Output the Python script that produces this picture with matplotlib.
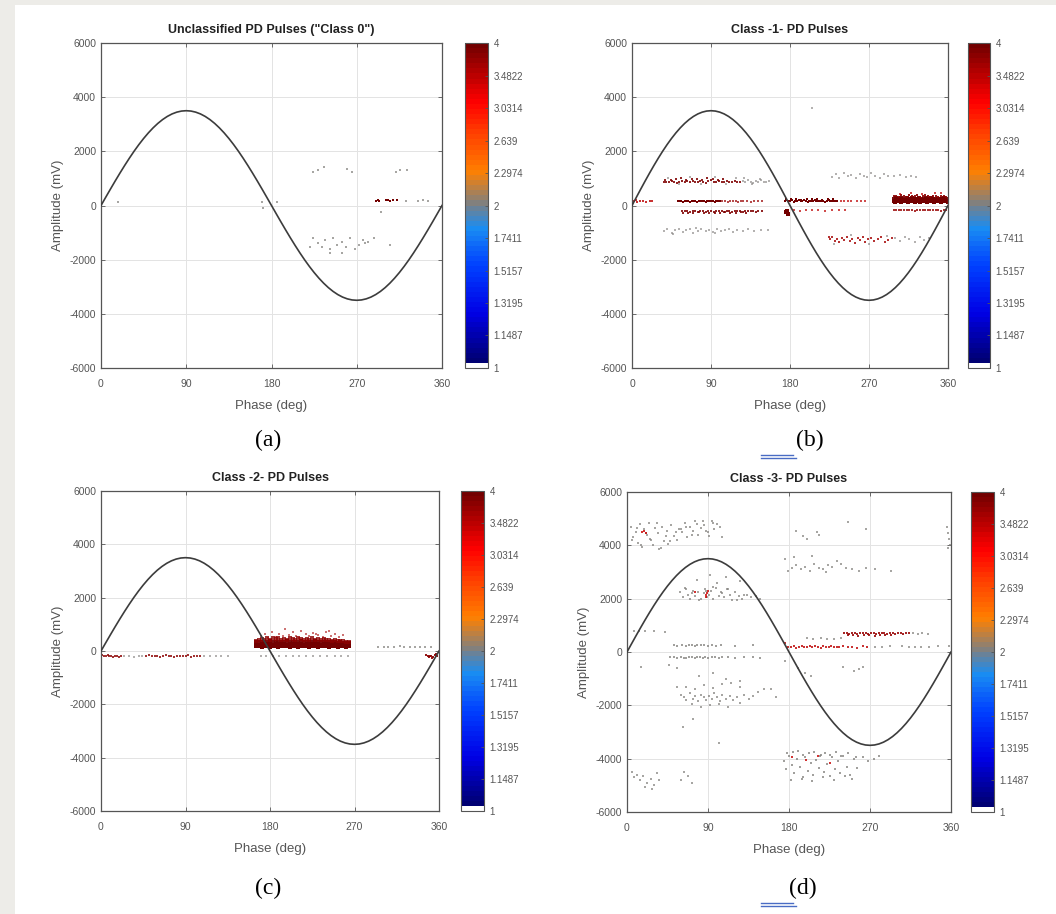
import numpy as np
import matplotlib.pyplot as plt
from matplotlib.colors import LinearSegmentedColormap, ListedColormap, LogNorm
from matplotlib.cm import ScalarMappable
from matplotlib.patches import Rectangle
from matplotlib.lines import Line2D
from matplotlib.ticker import NullLocator

W, H = 1056, 914

# reference wave, 0..180 deg in 5 deg steps (second half is the mirror)
wave_half = [0, 305, 608, 906, 1197, 1479, 1750, 2008, 2250, 2475, 2681, 2867, 3031,
             3172, 3289, 3381, 3447, 3487, 3500, 3487, 3447, 3381, 3289, 3172, 3031,
             2867, 2681, 2475, 2250, 2008, 1750, 1479, 1197, 906, 608, 305, 0]
wave_phase = list(range(0, 365, 5))
wave_amp = wave_half + [-v for v in wave_half[1:]]

cbar_ticks = [1, 1.1487, 1.3195, 1.5157, 1.7411, 2, 2.2974, 2.639, 3.0314, 3.4822, 4]
cbar_labels = ["1", "1.1487", "1.3195", "1.5157", "1.7411", "2", "2.2974", "2.639",
               "3.0314", "3.4822", "4"]

titles = ['Unclassified PD Pulses ("Class 0")', "Class -1- PD Pulses",
          "Class -2- PD Pulses", "Class -3- PD Pulses"]
captions = ["(a)", "(b)", "(c)", "(d)"]

# ---- class 0 ----
a_sp_ph = [18, 170, 171, 186, 221, 224, 229, 233, 237, 242, 245, 249, 254, 259, 263, 268,
           272, 277, 279, 282, 288, 305, 254, 242, 224, 229, 235, 260, 265, 311, 316, 323,
           322, 335, 340, 345, 296]
a_sp_amp = [140, 140, -80, 140, -1520, -1210, -1380, -1520, -1290, -1600, -1210, -1450,
            -1330, -1520, -1210, -1600, -1450, -1290, -1380, -1330, -1210, -1450, -1760,
            -1760, 1250, 1300, 1420, 1350, 1250, 1250, 1310, 1300, 150, 180, 200, 160, -230]
a_dn_ph = [290, 292, 294, 301, 303, 305, 308, 313]
a_dn_amp = [180, 200, 170, 210, 190, 175, 200, 185]

# ---- class 1 ----
b_up_ph = [36, 39, 42, 45, 48, 51, 54, 57, 60, 63, 66, 69, 72, 75, 78, 81, 84, 87, 90, 93,
           96, 99, 102, 105, 108, 111, 114, 117, 120, 123, 38, 44, 50, 56, 62, 68, 74, 80,
           86, 92, 98, 104]
b_up_amp = [860, 880, 850, 900, 870, 840, 880, 910, 860, 890, 850, 920, 880, 860, 900, 870,
            840, 890, 930, 880, 860, 900, 870, 850, 890, 880, 860, 900, 870, 880, 960, 940,
            980, 1000, 950, 970, 990, 960, 1010, 970, 950, 980]
b_up_sp_ph = [41, 53, 66, 79, 95, 107, 118, 126, 129, 132, 135, 138, 141, 144, 147, 150,
              153, 156, 128, 137, 146]
b_up_sp_amp = [1020, 790, 1050, 800, 1060, 790, 1030, 900, 860, 940, 880, 830, 910, 870,
               950, 880, 860, 900, 1000, 800, 980]
b_z1_ph = [2, 4, 6, 9, 12, 16, 20, 23]
b_z1_amp = [150, 210, 130, 180, 160, 140, 170, 150]
b_z2_ph = [52, 54, 56, 58, 60, 62, 64, 66, 68, 70, 72, 74, 76, 78, 80, 82, 84, 86, 88, 90,
           92, 94, 96, 98, 100]
b_z2_amp = [180, 150, 170, 140, 160, 180, 150, 130, 160, 170, 150, 140, 170, 160, 150, 180,
            140, 160, 150, 170, 160, 140, 150, 170, 160]
b_z2_md_ph = [103, 106, 109, 112, 115, 118, 121, 124, 127, 131, 135, 139, 143, 148]
b_z2_md_amp = [150, 170, 140, 160, 150, 170, 140, 160, 150, 160, 140, 170, 150, 160]
b_n1_ph = [57, 60, 63, 66, 69, 72, 75, 78, 81, 84, 87, 90, 93, 96, 99, 102, 105, 108, 111,
           114, 117, 120, 123, 126, 129, 132, 135, 138, 141, 144, 148, 58, 64, 70, 76, 82,
           88, 94, 100, 106, 112, 118, 124, 130]
b_n1_amp = [-190, -220, -200, -240, -210, -190, -230, -200, -220, -250, -190, -210, -240,
            -200, -220, -190, -230, -210, -200, -240, -190, -220, -210, -230, -200, -190,
            -220, -210, -240, -200, -190, -270, -260, -280, -250, -270, -290, -260, -270,
            -250, -260, -280, -250, -260]
b_n2_ph = [36, 40, 45, 49, 53, 58, 62, 66, 70, 75, 79, 84, 88, 92, 97, 101, 106, 110, 115,
           120, 126, 132, 139, 147, 155, 47, 73, 95]
b_n2_amp = [-950, -880, -1000, -900, -860, -960, -920, -880, -1000, -930, -870, -950, -900,
            -980, -880, -940, -910, -870, -960, -900, -930, -880, -950, -900, -920, -1050,
            -820, -1020]
b_z3_ph = [174, 176, 178, 180, 182, 184, 186, 188, 190, 192, 194, 196, 198, 200, 202, 204,
           206, 208, 210, 212, 214, 216, 218, 220, 222, 224, 226, 228, 230, 232, 234, 175,
           181, 187, 193, 199, 205, 211, 217, 223, 229]
b_z3_amp = [160, 190, 150, 170, 200, 140, 180, 160, 190, 150, 170, 200, 160, 140, 180, 170,
            150, 190, 160, 170, 150, 180, 160, 140, 170, 190, 150, 160, 170, 150, 160, 240,
            230, 250, 220, 240, 230, 250, 220, 240, 230]
b_z3_sp_ph = [238, 242, 246, 250, 256, 261, 266]
b_z3_sp_amp = [170, 150, 160, 180, 150, 160, 170]
b_blob_ph = [176, 178, 177]
b_blob_amp = [-250, -300, -210]
b_n3_ph = [185, 191, 198, 205, 212, 220, 228, 236, 243]
b_n3_amp = [-170, -190, -160, -180, -170, -190, -160, -180, -170]
b_r1_ph = [298, 300, 302, 304, 306, 308, 310, 312, 314, 316, 318, 320, 322, 324, 326, 328,
           330, 332, 334, 336, 338, 340, 342, 344, 346, 348, 350, 352, 354, 356, 358, 360]
b_r1_amp = [160, 140, 170, 150, 130, 160, 180, 150, 140, 170, 160, 150, 130, 170, 160, 140,
            150, 180, 160, 140, 170, 150, 160, 130, 150, 170, 160, 140, 150, 160, 150, 140]
b_r2_ph = [299, 301, 303, 305, 307, 309, 311, 313, 315, 317, 319, 321, 323, 325, 327, 329,
           331, 333, 335, 337, 339, 341, 343, 345, 347, 349, 351, 353, 355, 357, 359]
b_r2_amp = [240, 260, 230, 250, 270, 240, 220, 260, 250, 230, 270, 240, 250, 230, 260, 240,
            220, 250, 270, 240, 230, 260, 250, 240, 220, 250, 230, 240, 260, 230, 250]
b_r3_ph = [298, 301, 304, 307, 310, 313, 316, 319, 322, 325, 328, 331, 334, 337, 340, 343,
           346, 349, 352, 355, 358]
b_r3_amp = [340, 360, 330, 380, 350, 320, 370, 340, 360, 390, 330, 350, 370, 340, 320, 360,
            350, 330, 340, 360, 320]
b_r4_ph = [305, 318, 330, 345, 352]
b_r4_amp = [440, 470, 430, 450, 460]
b_n4_ph = [298, 301, 304, 307, 310, 313, 316, 319, 322, 325, 328, 331, 334, 337, 340, 343,
           346, 349, 352, 355, 358]
b_n4_amp = [-170, -160, -180, -170, -150, -180, -160, -170, -190, -160, -170, -150, -180,
            -170, -160, -180, -170, -160, -190, -170, -160]
b_ur_ph = [228, 232, 236, 241, 246, 250, 255, 260, 264, 268, 272, 277, 282, 287, 292, 298,
           305, 312, 318, 324, 205]
b_ur_amp = [1050, 1150, 1000, 1200, 1080, 1120, 1010, 1180, 1100, 1060, 1200, 1090, 1030,
            1150, 1100, 1080, 1120, 1050, 1100, 1070, 3600]
b_lr_ph = [224, 226, 228, 231, 234, 236, 239, 242, 245, 248, 251, 254, 257, 260, 263, 266,
           269, 272, 276, 280, 284, 288, 292, 296]
b_lr_amp = [-1150, -1250, -1180, -1300, -1220, -1350, -1200, -1280, -1170, -1320, -1240,
            -1380, -1210, -1290, -1160, -1340, -1250, -1200, -1300, -1230, -1180, -1330,
            -1260, -1200]
b_lr_sp_ph = [300, 305, 311, 316, 322, 328, 333, 338, 230, 250, 270, 290]
b_lr_sp_amp = [-1200, -1300, -1150, -1250, -1350, -1180, -1280, -1200, -1420, -1100, -1430,
               -1110]

# ---- class 2 ----
c_blk_ph = [165, 168, 171, 174, 177, 180, 183, 186, 189, 192, 195, 198, 201, 204, 207, 210,
            213, 216, 219, 222, 225, 228, 231, 234, 237, 240, 243, 246, 249, 252, 255, 258,
            261, 264]
c_blk_amp1 = [170, 180, 160, 175, 185, 165, 170, 180, 160, 175, 170, 185, 165, 180, 170, 160,
              175, 180, 170, 165, 185, 170, 160, 175, 180, 170, 165, 180, 175, 160, 170, 180,
              165, 175]
c_blk_amp2 = [250, 240, 260, 245, 255, 265, 240, 250, 260, 245, 255, 240, 265, 250, 245, 260,
              250, 240, 255, 265, 245, 250, 260, 240, 255, 250, 245, 260, 250, 240, 255, 245,
              260, 250]
c_blk_amp3 = [330, 320, 340, 350, 330, 360, 340, 320, 350, 330, 340, 360, 330, 350, 340, 320,
              360, 330, 350, 340, 330, 360, 340, 320, 350, 330, 340, 320, 330, 310, 320, 300,
              310, 300]
c_blk_amp4 = [390, 420, 450, 430, 470, 410, 480, 440, 500, 420, 460, 430, 490, 450, 410, 470,
              440, 400, 460, 430, 480, 420, 450, 400, 440, 410, 430, 390, 400, 380, 360, 370,
              350, 340]
c_top_ph = [170, 175, 182, 186, 190, 196, 200, 204, 208, 213, 218, 222, 226, 231, 236, 240,
            245, 249, 254, 258, 178, 194, 211, 229, 243]
c_top_amp = [560, 620, 700, 540, 650, 820, 600, 710, 580, 760, 640, 550, 690, 600, 520, 730,
             560, 650, 540, 600, 500, 580, 500, 640, 760]
c_rz_ph = [295, 301, 306, 312, 318, 323, 329, 334, 340, 345, 351]
c_rz_amp = [150, 140, 160, 150, 170, 150, 140, 160, 150, 140, 150]
c_nl_ph = [1, 3, 5, 7, 9, 11, 13, 15, 17, 19, 21, 48, 51, 54, 57, 60, 63, 66, 69, 72, 75, 78,
           81, 84, 87, 90, 93, 96, 99, 102, 105]
c_nl_amp = [-150, -170, -190, -160, -200, -180, -210, -170, -190, -230, -200, -180, -160,
            -200, -190, -170, -210, -180, -160, -200, -190, -220, -170, -180, -200, -190,
            -160, -210, -180, -170, -190]
c_ns_ph = [25, 30, 35, 40, 44, 110, 116, 122, 128, 135, 170, 176, 183, 190, 197, 204, 211,
           218, 226, 233, 241, 249, 256, 263]
c_ns_amp = [-200, -180, -210, -190, -170, -190, -200, -180, -190, -200, -180, -200, -170,
            -190, -200, -180, -170, -190, -200, -180, -190, -170, -190, -180]
c_nr_ph = [346, 348, 350, 352, 354, 356, 358, 349, 353, 357]
c_nr_amp = [-150, -170, -200, -180, -220, -160, -200, -240, -260, -120]

# ---- class 3 ----
d_tl_ph = [4, 7, 10, 12, 14, 17, 19, 22, 24, 27, 29, 31, 34, 36, 39, 41, 44, 46, 49, 52, 55,
           58, 61, 64, 67, 70, 73, 76, 79, 82, 85, 88, 91, 94, 97, 100, 103, 106, 6, 11, 16,
           21, 26, 33, 38, 43, 48, 54, 60, 66, 72, 78, 84, 90, 96, 356, 357, 358, 359, 357,
           188, 195, 211, 245, 265, 200, 213]
d_tl_amp = [4700, 4300, 4500, 4100, 4800, 3950, 4600, 4400, 4850, 4200, 4000, 4650, 4450,
            3850, 4700, 4150, 4550, 4050, 4750, 4350, 4200, 4600, 4500, 4850, 4300, 4700,
            4550, 4900, 4400, 4650, 4750, 4550, 4350, 4900, 4600, 4800, 4700, 4300, 4200,
            4650, 4000, 4450, 4250, 4850, 3900, 4350, 4150, 4500, 4600, 4700, 4400, 4800,
            4900, 4500, 4850, 4700, 4450, 4250, 4000, 3900, 4550, 4350, 4500, 4880, 4620,
            4250, 4400]
d_red_ph = [17, 19, 21, 88, 89, 90, 88, 75, 183, 199, 212, 225]
d_red_amp = [4500, 4550, 4480, 2050, 2200, 2300, 2150, 2250, -3950, -4050, -3900, -4150]
d_mu_ph = [176, 179, 183, 188, 193, 198, 203, 208, 213, 218, 223, 228, 233, 238, 243, 250,
           258, 265, 275, 293, 186, 205, 221]
d_mu_amp = [3500, 3050, 3150, 3250, 3100, 3200, 3050, 3300, 3150, 3100, 3250, 3200, 3400,
            3300, 3150, 3100, 3050, 3150, 3100, 3050, 3550, 3600, 3000]
d_pk_ph = [59, 62, 65, 68, 70, 73, 76, 79, 82, 85, 87, 89, 91, 93, 96, 99, 102, 105, 108,
           111, 114, 117, 120, 124, 128, 133, 138, 143, 148, 64, 72, 80, 88, 95, 104, 112,
           122, 130, 78, 92, 100, 110, 126]
d_pk_amp = [2250, 2050, 2350, 2150, 2000, 2300, 2100, 2250, 2000, 2200, 2350, 2050, 2150,
            2300, 2000, 2400, 2100, 2200, 2050, 2350, 2150, 1950, 2250, 2100, 2000, 2150,
            2050, 2100, 2000, 2400, 2200, 1950, 2300, 2450, 2250, 2350, 1950, 2150, 2700,
            2900, 2600, 2800, 2650]
d_700_ph = [241, 244, 247, 250, 253, 256, 259, 262, 265, 268, 271, 274, 277, 280, 283, 286,
            289, 292, 295, 298, 301, 304, 307, 310, 313, 245, 251, 257, 263, 269, 275, 281,
            287, 293]
d_700_amp = [700, 720, 690, 710, 700, 680, 730, 700, 720, 690, 710, 700, 680, 720, 700, 710,
             690, 700, 720, 680, 700, 710, 690, 700, 720, 640, 620, 600, 650, 630, 610, 640,
             620, 650]
d_z_ph = [176, 179, 182, 185, 188, 191, 194, 197, 200, 203, 206, 209, 212, 215, 218, 221,
          224, 227, 230, 233, 236, 240, 245, 250, 256, 262, 267]
d_z_amp = [350, 200, 180, 220, 160, 200, 230, 170, 200, 210, 180, 230, 190, 160, 220, 200,
           170, 230, 190, 200, 170, 220, 180, 200, 160, 210, 190]
d_sp_ph = [318, 323, 328, 334, 275, 283, 292, 305, 313, 320, 327, 335, 345, 358, 200, 207,
           215, 222, 230, 238, 8, 13, 20, 30, 42, 15, 47, 55, 62, 73, 102, 55, 160, 165,
           190, 198, 204, 240, 252, 258, 262, 175]
d_sp_amp = [700, 680, 710, 690, 200, 180, 210, 220, 190, 200, 180, 200, 210, 230, 520, 480,
            510, 500, 470, 520, 780, 800, 770, 790, 760, -550, -500, -600, -2800, -2500,
            -3400, -1300, -1400, -1700, -600, -800, -900, -550, -700, -650, -580, -350]
d_l2_ph = [52, 56, 61, 65, 69, 72, 75, 78, 82, 86, 90, 94, 99, 104, 120, 140, 48, 52, 56,
           60, 63, 66, 69, 72, 75, 78, 81, 84, 87, 90, 94, 98, 102, 106, 112, 120, 130, 140,
           148]
d_l2_amp = [250, 220, 260, 240, 250, 280, 230, 260, 250, 270, 240, 260, 230, 250, 240, 250,
            -200, -180, -220, -190, -210, -230, -190, -200, -220, -180, -200, -210, -190,
            -230, -200, -180, -210, -200, -190, -220, -200, -180, -210]
d_ll_ph = [60, 63, 66, 70, 73, 76, 79, 82, 85, 88, 91, 94, 97, 100, 103, 106, 110, 114, 118,
           122, 126, 130, 135, 140, 146, 152, 65, 75, 85, 95, 105, 115, 125, 72, 82, 92, 102,
           112, 80, 95, 110, 125]
d_ll_amp = [-1600, -1700, -1800, -1550, -1750, -1650, -1850, -1600, -1700, -1800, -1650,
            -1750, -1550, -1700, -1850, -1600, -1750, -1650, -1800, -1700, -1900, -1600,
            -1750, -1650, -1500, -1400, -1300, -1400, -1250, -1350, -1200, -1150, -1300,
            -1950, -2050, -2000, -1950, -2050, -900, -800, -1000, -1100]
d_bl_ph = [5, 8, 11, 14, 18, 22, 27, 30, 33, 36, 60, 63, 68, 72, 20, 28]
d_bl_amp = [-4500, -4700, -4600, -4800, -4650, -4900, -4750, -5000, -4550, -4800, -4800,
            -4500, -4650, -4900, -5050, -5150]
d_bm_ph = [174, 177, 180, 183, 186, 189, 192, 195, 198, 201, 204, 207, 210, 213, 216, 219,
           222, 225, 228, 231, 234, 237, 240, 244, 248, 252, 256, 262, 268, 274, 280, 178,
           184, 190, 196, 202, 208, 214, 220, 226, 232, 238, 246, 254, 182, 194, 206, 218,
           230, 242, 250]
d_bm_amp = [-4100, -4400, -3900, -4250, -4550, -4000, -4300, -4700, -3950, -4450, -4150,
            -4600, -4050, -4350, -3850, -4500, -4200, -4650, -3950, -4400, -4100, -4550,
            -3900, -4300, -4600, -4000, -4350, -3950, -4100, -4000, -3900, -3800, -3750,
            -3700, -3850, -3800, -3750, -3900, -3800, -3850, -3750, -3900, -3800, -3950,
            -4800, -4750, -4850, -4700, -4800, -4650, -4750]

# pulse groups per panel: (phase, amplitude, colour level, marker size, alpha)
groups = [
    [(a_sp_ph, a_sp_amp, 2.0, 3, 0.7), (a_dn_ph, a_dn_amp, 4.0, 4, 1.0)],
    [(b_up_ph, b_up_amp, 3.9, 3.5, 0.85), (b_up_sp_ph, b_up_sp_amp, 2.0, 3, 0.6),
     (b_z1_ph, b_z1_amp, 3.5, 3, 0.8), (b_z2_ph, b_z2_amp, 4.0, 4, 1.0),
     (b_z2_md_ph, b_z2_md_amp, 3.7, 2.5, 0.7), (b_n1_ph, b_n1_amp, 3.9, 3.5, 0.85),
     (b_n2_ph, b_n2_amp, 2.0, 3, 0.6), (b_z3_ph, b_z3_amp, 4.0, 4, 1.0),
     (b_z3_sp_ph, b_z3_sp_amp, 3.5, 2.5, 0.7), (b_blob_ph, b_blob_amp, 4.0, 5, 1.0),
     (b_n3_ph, b_n3_amp, 3.5, 2.5, 0.7), (b_r1_ph, b_r1_amp, 4.0, 5, 1.0),
     (b_r2_ph, b_r2_amp, 4.0, 5, 0.95), (b_r3_ph, b_r3_amp, 3.8, 4, 0.9),
     (b_r4_ph, b_r4_amp, 3.5, 2.5, 0.7), (b_n4_ph, b_n4_amp, 3.7, 3, 0.8),
     (b_ur_ph, b_ur_amp, 2.0, 3, 0.6), (b_lr_ph, b_lr_amp, 3.6, 3.5, 0.8),
     (b_lr_sp_ph, b_lr_sp_amp, 2.0, 3, 0.6)],
    [(c_blk_ph, c_blk_amp1, 4.0, 7, 1.0), (c_blk_ph, c_blk_amp2, 4.0, 7, 1.0),
     (c_blk_ph, c_blk_amp3, 4.0, 7, 0.95), (c_blk_ph, c_blk_amp4, 3.8, 5, 0.8),
     (c_top_ph, c_top_amp, 3.6, 3, 0.55), (c_rz_ph, c_rz_amp, 2.0, 3, 0.7),
     (c_nl_ph, c_nl_amp, 3.8, 3, 0.8), (c_ns_ph, c_ns_amp, 2.0, 3, 0.6),
     (c_nr_ph, c_nr_amp, 3.8, 4, 0.9)],
    [(d_tl_ph, d_tl_amp, 2.0, 3, 0.7), (d_mu_ph, d_mu_amp, 2.0, 3, 0.7),
     (d_pk_ph, d_pk_amp, 2.0, 3, 0.7), (d_700_ph, d_700_amp, 3.7, 4, 0.85),
     (d_z_ph, d_z_amp, 3.5, 3.5, 0.8), (d_sp_ph, d_sp_amp, 2.0, 3, 0.7),
     (d_l2_ph, d_l2_amp, 2.0, 3, 0.75), (d_ll_ph, d_ll_amp, 2.0, 3, 0.7),
     (d_bl_ph, d_bl_amp, 2.0, 3, 0.7), (d_bm_ph, d_bm_amp, 2.0, 3, 0.75),
     (d_red_ph, d_red_amp, 3.4, 4, 0.8)],
]

# panel boxes in pixels: axes (left, top, right, bottom), colorbar (left, right)
ax_boxes = [(101, 43, 442, 368), (632, 43, 948, 368), (101, 491, 439, 811), (627, 492, 951, 812)]
cb_boxes = [(465, 488), (968, 990), (461, 484), (971, 994)]
cap_pos = [(268, 440), (810, 440), (268, 888), (803, 888)]

# MATLAB-style map: white bottom entry, then navy -> blue -> grey -> orange -> red -> dark red
base = LinearSegmentedColormap.from_list("pd", [
    (0.00, (0.00, 0.00, 0.45)), (0.15, (0.00, 0.00, 0.90)), (0.30, (0.00, 0.25, 1.00)),
    (0.42, (0.10, 0.55, 0.95)), (0.50, (0.50, 0.50, 0.50)), (0.60, (1.00, 0.50, 0.00)),
    (0.72, (1.00, 0.25, 0.00)), (0.82, (1.00, 0.00, 0.00)), (1.00, (0.45, 0.00, 0.00))])
cmap = ListedColormap(np.vstack([[1, 1, 1, 1], base(np.linspace(0, 1, 63))]))
norm = LogNorm(vmin=1, vmax=4)

plt.rcParams['font.family'] = 'Liberation Sans'
plt.rcParams['axes.unicode_minus'] = False
fig = plt.figure(figsize=(W / 100, H / 100), dpi=100)
fig.patch.set_facecolor('#edece8')
fig.patches.append(Rectangle((15 / W, 0), 1 - 15 / W, 1 - 5 / H, transform=fig.transFigure,
                             facecolor='white', edgecolor='none', zorder=-5))


def fig_rect(l, t, r, b):
    return [l / W, 1 - b / H, (r - l) / W, (b - t) / H]


for i in range(4):
    l, t, r, b = ax_boxes[i]
    ax = fig.add_axes(fig_rect(l, t, r, b))
    ax.plot(wave_phase, wave_amp, color='#3c3c3c', lw=1.2, zorder=3)
    for ph, amp, lev, s, al in groups[i]:
        ax.scatter(ph, amp, s=s, color=cmap(norm(lev)), alpha=al, linewidths=0,
                   marker='s', zorder=2)
    ax.set_xlim(0, 360)
    ax.set_ylim(-6000, 6000)
    ax.set_xticks([0, 90, 180, 270, 360])
    ax.set_yticks(range(-6000, 6001, 2000))
    ax.grid(True, color='#e3e3e3', lw=0.7)
    ax.set_axisbelow(True)
    ax.tick_params(direction='in', length=3, top=True, right=True, labelsize=7.5,
                   colors='#555555', width=0.6)
    ax.tick_params(axis='x', pad=8)
    for sp in ax.spines.values():
        sp.set_color('#555555')
        sp.set_linewidth(0.9)
    ax.set_xlabel("Phase (deg)", fontsize=9.5, color='#555555', labelpad=8)
    ax.set_ylabel("Amplitude (mV)", fontsize=9.5, color='#555555', labelpad=4)
    ax.set_title(titles[i], fontsize=9, fontweight='bold', color='#222222', pad=7)

    cl, cr = cb_boxes[i]
    cax = fig.add_axes(fig_rect(cl, t, cr, b))
    cb = fig.colorbar(ScalarMappable(norm=norm, cmap=cmap), cax=cax)
    cb.set_ticks(cbar_ticks)
    cb.set_ticklabels(cbar_labels)
    cax.yaxis.set_minor_locator(NullLocator())
    cax.tick_params(direction='in', length=2.5, labelsize=7, colors='#555555', width=0.6,
                    pad=4)
    cb.outline.set_edgecolor('#555555')
    cb.outline.set_linewidth(0.8)

    cx, cy = cap_pos[i]
    fig.text(cx / W, 1 - cy / H, captions[i], ha='center', va='center', fontsize=17,
             family='Liberation Serif', color='black')

# double underline marks next to (b) and (d)
for y0 in (455, 903):
    fig.add_artist(Line2D([761 / W, 793 / W], [1 - y0 / H] * 2, color='#4a6cc4', lw=1.0))
    fig.add_artist(Line2D([761 / W, 796 / W], [1 - (y0 + 3) / H] * 2, color='#4a6cc4',
                          lw=1.0))

fig.savefig("out.png", dpi=100)
